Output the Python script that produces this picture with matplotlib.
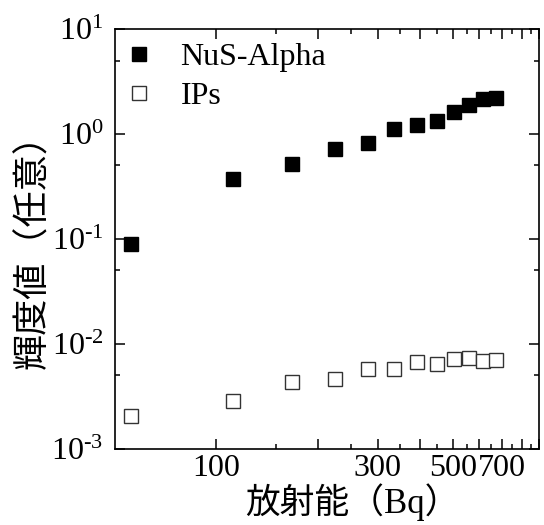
import math
import matplotlib
matplotlib.use("Agg")
import matplotlib.pyplot as plt
from matplotlib.ticker import FixedLocator, FuncFormatter, NullFormatter

plt.rcParams['font.family'] = ['Liberation Serif', 'Noto Sans CJK JP']
plt.rcParams['mathtext.fontset'] = 'custom'
plt.rcParams['mathtext.rm'] = 'Liberation Serif'
plt.rcParams['mathtext.it'] = 'Liberation Serif:italic'
plt.rcParams['mathtext.bf'] = 'Liberation Serif:bold'

# data
activity = [56, 112, 168, 224, 280, 336, 392, 448, 504, 560, 616, 672]
nus_alpha = [0.089, 0.37, 0.52, 0.71, 0.81, 1.11, 1.22, 1.34, 1.63, 1.89, 2.14, 2.19]
ips = [0.00205, 0.00284, 0.00429, 0.00458, 0.0057, 0.0057, 0.00673, 0.0064,
       0.0071, 0.00726, 0.00689, 0.00695]
x_major = [100, 200, 300, 400, 500, 600, 700, 800, 900]
x_labels = {100: '100', 300: '300', 500: '500', 700: '700'}
x_minor = [150, 250, 350, 450, 550, 650, 750, 850]
y_major = [1e-3, 1e-2, 1e-1, 1e0, 1e1]
y_minor = [5e-3, 5e-2, 5e-1, 5e0]

fig = plt.figure(figsize=(5.44, 5.25), dpi=100)
ax = fig.add_axes([114.5 / 544, 1 - 448.5 / 525, (539 - 114.5) / 544, (448.5 - 29) / 525])

ax.plot(activity, nus_alpha, 's', ms=10, color='black', mec='black', label='NuS-Alpha')
ax.plot(activity, ips, 's', ms=10, mfc='white', mec='#333333', mew=1.0, label='IPs')

ax.set_xscale('log')
ax.set_yscale('log')
ax.set_xlim(50, 900)
ax.set_ylim(1e-3, 10)

ax.xaxis.set_major_locator(FixedLocator(x_major))
ax.xaxis.set_minor_locator(FixedLocator(x_minor))
ax.xaxis.set_major_formatter(FuncFormatter(lambda v, p: x_labels.get(int(round(v)), '')))
ax.xaxis.set_minor_formatter(NullFormatter())

def ylab(v, p):
    n = int(round(math.log10(v)))
    if n < 0:
        return r'$10^{\text{-}%d}$' % (-n)
    return r'$10^{%d}$' % n

ax.yaxis.set_major_locator(FixedLocator(y_major))
ax.yaxis.set_minor_locator(FixedLocator(y_minor))
ax.yaxis.set_major_formatter(FuncFormatter(ylab))
ax.yaxis.set_minor_formatter(NullFormatter())

ax.tick_params(which='both', direction='in', top=True, right=True, width=1.1, labelsize=23)
ax.tick_params(which='major', length=7.2)
ax.tick_params(which='minor', length=3.6)
ax.tick_params(axis='x', pad=4)
ax.tick_params(axis='y', pad=8)
for s in ax.spines.values():
    s.set_linewidth(1.2)

ax.set_xlabel('放射能（Bq）', fontsize=25, labelpad=0)
ax.set_ylabel('輝度値（任意）', fontsize=26)
ax.xaxis.set_label_coords(0.56, -0.083)
ax.yaxis.set_label_coords(-0.15, 0.49)

ax.legend(loc='upper left', bbox_to_anchor=(-0.025, 1.013), frameon=False, fontsize=23,
          handlelength=1.0, handletextpad=0.8, labelspacing=0.3, borderaxespad=0.2)

fig.savefig('out.png', dpi=100)
